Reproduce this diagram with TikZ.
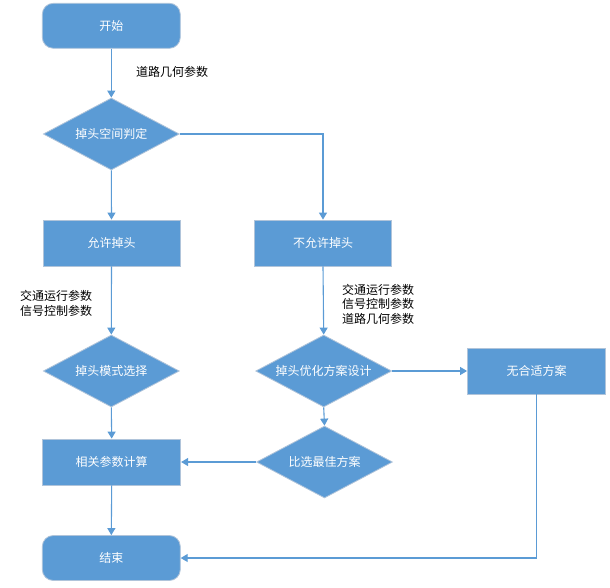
\documentclass[tikz,border=0pt]{standalone}
\usepackage{fontspec}
\setmainfont{Noto Sans CJK SC}
\usetikzlibrary{shapes.geometric,arrows.meta}
\definecolor{boxblue}{HTML}{5B9BD5}
\definecolor{boxedge}{HTML}{B0C4DA}
\definecolor{lineblue}{HTML}{5B9BD5}
\tikzset{
  base/.style={fill=boxblue, draw=boxedge, line width=0.8pt, text=white, inner sep=0pt,
     font=\fontsize{12}{14}\selectfont},
  terminal/.style={base, rounded corners=11pt, minimum width=138pt, minimum height=45pt},
  process/.style={base, minimum width=137pt, minimum height=46pt},
  decision/.style={base, diamond, aspect=1.9, minimum width=136pt, minimum height=72pt},
  conn/.style={draw=lineblue, line width=1.1pt, -{Triangle[width=8pt,length=7pt]}},
  lbl/.style={anchor=west, align=left, inner sep=0pt, text=black,
     font=\fontsize{12}{14.5}\selectfont}
}
\begin{document}
\begin{tikzpicture}[x=1pt,y=-1pt]
\useasboundingbox (0,0) rectangle (610,587);
\node[terminal] (start) at (111.3,25.8) {开始};
\node[decision] (judge) at (111.3,134) {掉头空间判定};
\node[process] (allow) at (111.5,243) {允许掉头};
\node[process] (notallow) at (323,243) {不允许掉头};
\node[decision] (mode) at (111.3,371) {掉头模式选择};
\node[decision] (opt) at (323.7,371) {掉头优化方案设计};
\node[process, minimum width=138pt] (none) at (536.5,371) {无合适方案};
\node[process, minimum width=138pt] (calc) at (111.7,462) {相关参数计算};
\node[decision] (best) at (324.5,462) {比选最佳方案};
\node[terminal] (end) at (111.3,558) {结束};

\node[lbl] (l1) at (136,72) {道路几何参数};
\node[lbl] (l2) at (20,303.5) {交通运行参数\\信号控制参数};
\node[lbl] (l3) at (342,304) {交通运行参数\\信号控制参数\\道路几何参数};

\draw[conn] (start.south) -- (judge.north);
\draw[conn] (judge.east) -| (notallow.north);
\draw[conn] (judge.south) -- (allow.north);
\draw[conn] (allow.south) -- (mode.north);
\draw[conn] (notallow.south) -- (opt.north);
\draw[conn] (opt.east) -- (none.west);
\draw[conn] (opt.south) -- (best.north);
\draw[conn] (mode.south) -- (calc.north);
\draw[conn] (best.west) -- (calc.east);
\draw[conn] (calc.south) -- (end.north);
\draw[conn] (none.south) |- (end.east);
\end{tikzpicture}
\end{document}
